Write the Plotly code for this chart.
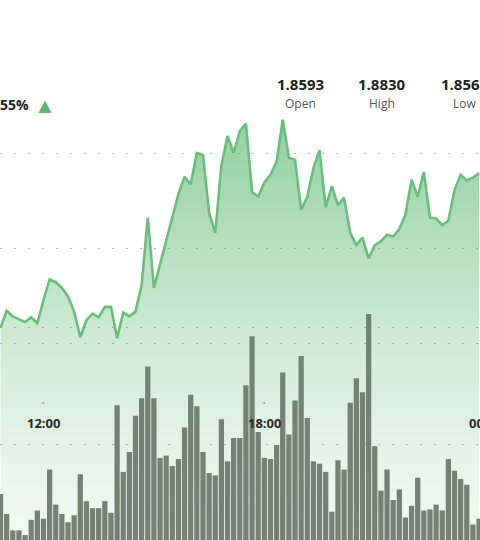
import plotly.graph_objects as go
import pandas as pd

# 10-minute bars, visible window of a larger intraday chart
times = pd.date_range('2024-05-14 10:50', periods=79, freq='10min')

price = [1.8616, 1.8634, 1.8628, 1.8625, 1.8622, 1.8627, 1.8621, 1.8645, 1.8667, 1.8664,
         1.8658, 1.8649, 1.8633, 1.8606, 1.8624, 1.8631, 1.8627, 1.8638, 1.8638, 1.8605,
         1.8632, 1.8628, 1.8633, 1.8661, 1.8732, 1.8658, 1.8683, 1.8707, 1.8732, 1.8757,
         1.8775, 1.8767, 1.8800, 1.8798, 1.8737, 1.8716, 1.8787, 1.8818, 1.8800, 1.8823,
         1.8831, 1.8759, 1.8754, 1.8769, 1.8777, 1.8791, 1.8835, 1.8795, 1.8793, 1.8740,
         1.8754, 1.8784, 1.8803, 1.8743, 1.8765, 1.8745, 1.8753, 1.8716, 1.8703, 1.8711,
         1.8689, 1.8703, 1.8707, 1.8714, 1.8712, 1.8720, 1.8735, 1.8772, 1.8754, 1.8780,
         1.8732, 1.8731, 1.8724, 1.8729, 1.8761, 1.8777, 1.8771, 1.8774, 1.8779]

# volume in thousands
volume = [58, 41, 27, 27, 23, 36, 44, 37, 79, 49,
          41, 34, 40, 75, 52, 46, 46, 52, 42, 134,
          77, 94, 125, 140, 167, 140, 89, 91, 82, 88,
          115, 143, 133, 94, 76, 74, 122, 86, 106, 106,
          151, 193, 111, 89, 88, 100, 162, 109, 138, 176,
          123, 86, 84, 77, 43, 87, 79, 136, 157, 145,
          212, 99, 61, 79, 53, 62, 38, 48, 72, 44,
          45, 49, 44, 88, 78, 71, 66, 32, 37]

stat_values = ['1.8593', '1.8830', '1.8565']
stat_labels = ['Open', 'High', 'Low']
change_text = '+1.55%'

tick_times = ['2024-05-14 12:00', '2024-05-14 18:00', '2024-05-15 00:00']
tick_text = ['12:00', '18:00', '00:00']

W, H = 480, 540
green = '95,185,115'
x_range = [pd.Timestamp('2024-05-14 10:49:08'), pd.Timestamp('2024-05-14 23:51:32')]

fig = go.Figure()
fig.add_trace(go.Scatter(
    x=times, y=price, mode='lines', fill='tozeroy',
    line=dict(color='#6abf7c', width=2.6),
    fillgradient=dict(type='vertical', start=1.8393, stop=1.8835,
                      colorscale=[[0, f'rgba({green},0.08)'], [0.21, f'rgba({green},0.16)'],
                                  [0.45, f'rgba({green},0.28)'], [0.69, f'rgba({green},0.45)'],
                                  [1, f'rgba({green},0.66)']]),
    hoverinfo='skip', showlegend=False))
fig.add_trace(go.Bar(
    x=times, y=volume, yaxis='y2', marker=dict(color='#738373', line_width=0),
    showlegend=False))

dots = dict(showgrid=True, gridcolor='#b4b4b4', gridwidth=1.3, griddash='2px,12px',
            zeroline=False, showticklabels=False, showline=False)

fig.update_layout(
    width=W, height=H, margin=dict(l=0, r=0, t=0, b=0),
    paper_bgcolor='white', plot_bgcolor='white',
    font=dict(family='Open Sans', color='#222'),
    bargap=0.14,
    xaxis=dict(range=x_range, showgrid=False, zeroline=False, showticklabels=False, ticks=''),
    yaxis=dict(range=[1.839263, 1.896105], tickvals=[1.86, 1.87, 1.88], **dots),
    yaxis2=dict(range=[18.8, 480.3], tickvals=[100, 200], overlaying='y', **dots),
)

centred = dict(showarrow=False, xanchor='center', yanchor='middle')

# header stats
xs = [300, 382, 464]
for x, v, lab in zip(xs, stat_values, stat_labels):
    fig.add_annotation(x=x / W, y=1 - 84 / H, xref='paper', yref='paper', text=f'<b>{v}</b>',
                       font=dict(size=15, color='#222'), **centred)
    fig.add_annotation(x=x / W, y=1 - 103 / H, xref='paper', yref='paper', text=lab,
                       font=dict(size=12, color='#555'), **centred)

fig.add_annotation(x=31 / W, y=1 - 105 / H, xref='paper', yref='paper', xanchor='right',
                   yanchor='middle', text=f'<b>{change_text}</b>', showarrow=False,
                   font=dict(size=14, color='#222'))
fig.add_annotation(x=45 / W, y=1 - 104 / H, xref='paper', yref='paper', text='▲',
                   font=dict(size=22, color='#5cb874'), **centred)

# time labels drawn inside the plot (paper position from the x range so that
# a label past the right edge still shows partly)
span = x_range[1] - x_range[0]
for t, txt in zip(tick_times, tick_text):
    px = (pd.Timestamp(t) - x_range[0]) / span
    fig.add_annotation(x=px, y=1 - 423 / H, xref='paper', yref='paper', text=f'<b>{txt}</b>',
                       font=dict(size=13, color='#2a2a2a'), **centred)
    fig.add_shape(type='circle', xref='paper', yref='paper', xsizemode='pixel', ysizemode='pixel',
                  xanchor=px, yanchor=1 - 403 / H, x0=-1, x1=1, y0=-1, y1=1,
                  fillcolor='#9a9a9a', line_width=0)

fig.write_html("out.html", config={'displayModeBar': False},
               post_script="document.body.style.margin='0';")
